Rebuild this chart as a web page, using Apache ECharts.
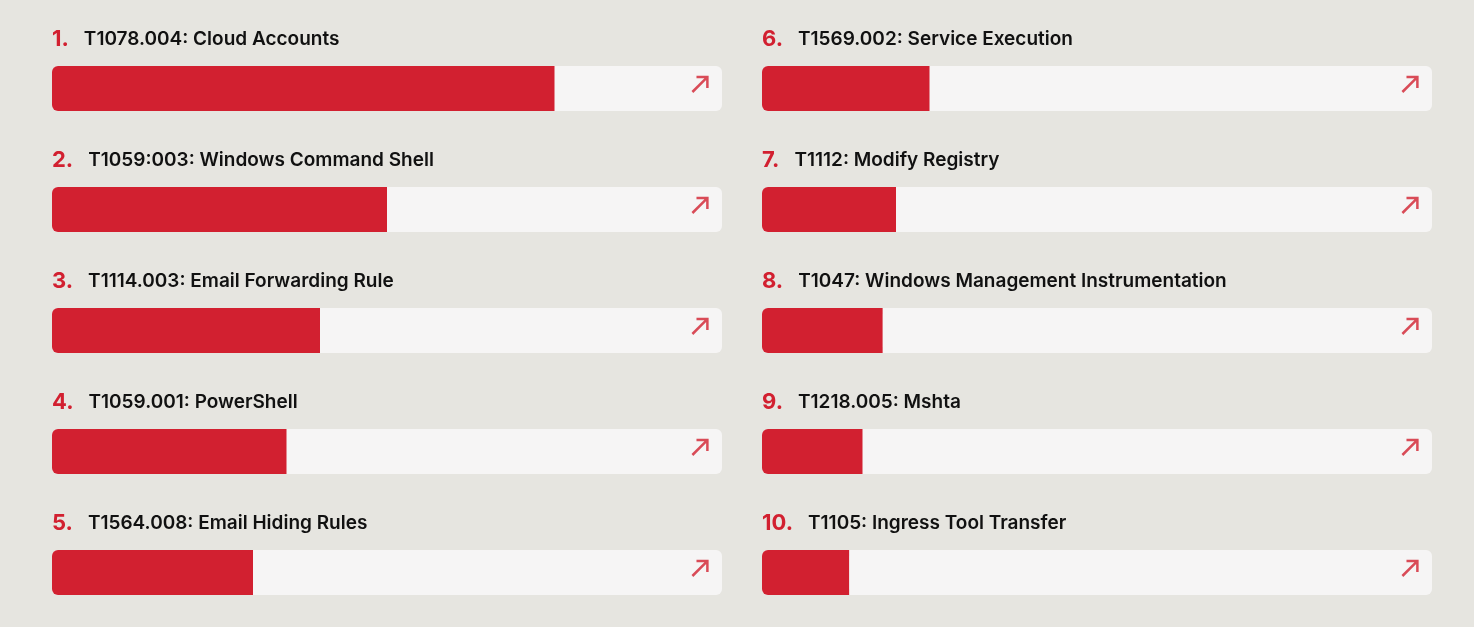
<!DOCTYPE html>
<html>
<head>
<meta charset="utf-8">
<script src="https://cdn.jsdelivr.net/npm/echarts@6/dist/echarts.min.js"></script>
<style>
html,body{margin:0;padding:0;background:#E6E5E0;}
#c{width:1474px;height:627px;}
</style>
</head>
<body>
<div id="c"></div>
<script>
const ranks = ['1.', '2.', '3.', '4.', '5.', '6.', '7.', '8.', '9.', '10.'];
const names = [
  'T1078.004: Cloud Accounts',
  'T1059:003: Windows Command Shell',
  'T1114.003: Email Forwarding Rule',
  'T1059.001: PowerShell',
  'T1564.008: Email Hiding Rules',
  'T1569.002: Service Execution',
  'T1112: Modify Registry',
  'T1047: Windows Management Instrumentation',
  'T1218.005: Mshta',
  'T1105: Ingress Tool Transfer'
];
const values = [75, 50, 40, 35, 30, 25, 20, 18, 15, 13];
const scaleMax = 100;
const arrowPos = 96.7;

const RED = '#D22030';
const TRACK = '#F6F5F5';
const FONT = 'Inter, "Noto Sans", sans-serif';
const arrowPath = 'path://M2,14 L12,4 M5,3 L13,3 L13,11';

const halves = [0, 1].map(h => ({
  cats: names.slice(h * 5, h * 5 + 5),
  ranks: ranks.slice(h * 5, h * 5 + 5),
  vals: values.slice(h * 5, h * 5 + 5)
}));

const grids = [
  { left: 52, width: 670, top: 88.5, height: 484 },
  { left: 762, width: 670, top: 88.5, height: 484 }
];
const xAxes = grids.map((g, i) => ({
  gridIndex: i, type: 'value', min: 0, max: scaleMax, show: false
}));
const yAxes = halves.map((h, i) => ({
  gridIndex: i, type: 'category', data: h.cats, inverse: true, show: false, boundaryGap: false
}));

const series = [];
halves.forEach((h, i) => {
  series.push({
    type: 'bar', xAxisIndex: i, yAxisIndex: i, barWidth: 45, barGap: '-100%',
    silent: true, z: 1,
    itemStyle: { color: TRACK, borderRadius: 6 },
    data: h.cats.map(() => scaleMax)
  });
  series.push({
    type: 'bar', xAxisIndex: i, yAxisIndex: i, barWidth: 45, barGap: '-100%',
    z: 2,
    itemStyle: { color: RED, borderRadius: [6, 0, 0, 6] },
    label: {
      show: true, position: [0, -27], align: 'left', verticalAlign: 'middle',
      formatter: p => '{n|' + h.ranks[p.dataIndex] + '}{t|' + h.cats[p.dataIndex] + '}',
      rich: {
        n: { color: RED, fontSize: 22, fontWeight: 700, fontFamily: FONT, padding: [0, 15, 0, 0] },
        t: { color: '#111111', fontSize: 19, fontWeight: 600, fontFamily: FONT }
      }
    },
    data: h.vals
  });
  series.push({
    type: 'scatter', xAxisIndex: i, yAxisIndex: i, z: 3, silent: true,
    symbol: arrowPath, symbolSize: 15, symbolKeepAspect: true, symbolOffset: [0, -4],
    itemStyle: { color: 'none', borderColor: RED, borderWidth: 2.5 },
    data: h.cats.map(c => [arrowPos, c])
  });
});

const chart = echarts.init(document.getElementById('c'));
chart.setOption({
  backgroundColor: '#E6E5E0',
  animation: false,
  grid: grids,
  xAxis: xAxes,
  yAxis: yAxes,
  series: series
});
</script>
</body>
</html>
